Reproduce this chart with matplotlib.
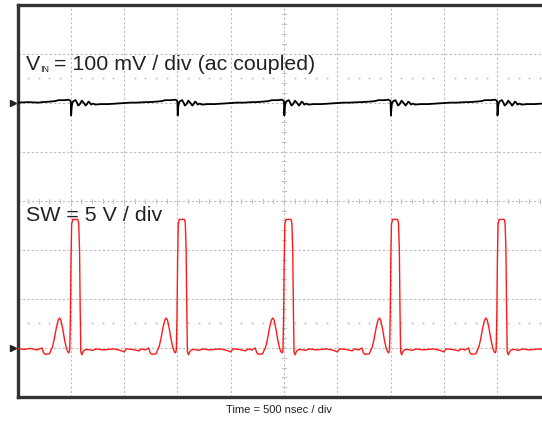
import matplotlib.pyplot as plt
import numpy as np

# switching events (ns)
edges_ns = [500, 1500, 2500, 3500, 4500]

# SW node, one cycle around a rising edge: (ns from edge, volts)
sw_rel_ns = [-270, -255, -240, -200, -185, -172, -155, -135, -118, -105, -92, -75,
             -58, -42, -28, -18, -10, -4, 2, 8, 18, 66, 74, 82, 88, 94, 104, 114,
             130, 160, 200, 240, 300, 350, 400, 450, 500, 520, 580, 640, 660, 700]
sw_volts = [0.0, -0.5, -0.65, -0.6, -0.2, 0.1, 0.9, 2.1, 2.85, 3.05, 2.8, 1.9,
            0.8, 0.0, -0.4, -0.5, -0.2, 3.0, 9.0, 12.6, 13.1, 13.1, 12.7, 10.0, 4.0, -0.4, -0.7, -0.4,
            -0.2, -0.15, -0.25, -0.1, -0.2, -0.15, -0.1, -0.2, -0.4, -0.1, -0.15, -0.3, -0.1, -0.2]
sw_lead_ns = [0, 60, 120, 180]
sw_lead_volts = [-0.05, -0.15, -0.05, -0.2]

# VIN ripple (ac coupled), one cycle around the same edge: (ns, mV)
vin_rel_ns = [-270, -200, -150, -115, -60, -20, -5, 0, 3, 8, 14, 25, 45, 60, 70, 85,
              103, 120, 140, 155, 165, 178, 190, 210, 230, 280, 350, 420, 500, 560, 620, 700]
vin_mv = [1, 2, 3, 5, 5, 6, 4, 2, -26, -10, 0, 3, 5, -1, -6, -3,
          4, 0, -6, -2, 2, 0, -4, -2, -4, -3, -3, -2, -1, 0, 0, 1]
vin_lead_ns = [0, 100, 200]
vin_lead_mv = [0, 1, 0]

W, H = 542, 423
fig = plt.figure(figsize=(W / 100, H / 100), dpi=100)
ax = fig.add_axes([17.5 / W, 1 - 397 / H, 533 / W, 392.5 / H])
ax.set_xlim(0, 5000)
ax.set_ylim(-4, 4)
ax.set_xticks([])
ax.set_yticks([])
for side in ['left', 'top', 'bottom']:
    ax.spines[side].set_linewidth(2.4)
    ax.spines[side].set_color('#333333')
ax.spines['right'].set_visible(False)

# graticule
grid_kw = dict(color='#bdbdbd', linewidth=0.8, linestyle=(0, (2, 2)), zorder=1)
for k in range(1, 10):
    ax.axvline(k * 500, **grid_kw)
for j in range(-3, 4):
    ax.axhline(j, **grid_kw)

# minor ticks on the centre axes
for y in np.arange(-4, 4.01, 0.2):
    ax.plot([2500 - 18, 2500 + 18], [y, y], color='#c4c4c4', lw=0.8, zorder=1)
for x in np.arange(0, 5001, 100):
    ax.plot([x, x], [-0.04, 0.04], color='#c4c4c4', lw=0.8, zorder=1)
    if x % 500:
        ax.plot([x, x], [2.5, -2.5], ls='none', marker='s', ms=1.2,
                color='#bbbbbb', mec='none', zorder=1)

# build traces
sw_t, sw_v = list(sw_lead_ns), list(sw_lead_volts)
vin_t, vin_v = list(vin_lead_ns), list(vin_lead_mv)
for e in edges_ns:
    sw_t += [e + t for t in sw_rel_ns]
    sw_v += sw_volts
    vin_t += [e + t for t in vin_rel_ns]
    vin_v += vin_mv

ax.plot(sw_t, np.array(sw_v) / 5 - 3, color='#ff1a1a', lw=1.0, zorder=3)
ax.plot(vin_t, np.array(vin_v) / 100 + 2, color='black', lw=1.3, zorder=3)

# channel markers
ax.plot([-40, -40], [2, -3], ls='none', marker='>', ms=4.5, color='#222222',
        clip_on=False)

font = 'Liberation Sans'
fig.text(26 / W, 1 - 70 / H, 'V', fontsize=15.4, family=font, color='#222222')
fig.text(40 / W, 1 - 72 / H, 'IN', fontsize=6.5, family=font, color='#222222')
fig.text(54 / W, 1 - 70 / H, '= 100 mV / div (ac coupled)', fontsize=15.4,
         family=font, color='#222222')
fig.text(26 / W, 1 - 220.5 / H, 'SW = 5 V / div', fontsize=15.4, family=font,
         color='#222222')
fig.text(279 / W, 1 - 413 / H, 'Time = 500 nsec / div', fontsize=8, family=font,
         ha='center', color='#222222')

fig.savefig('out.png', dpi=100)
